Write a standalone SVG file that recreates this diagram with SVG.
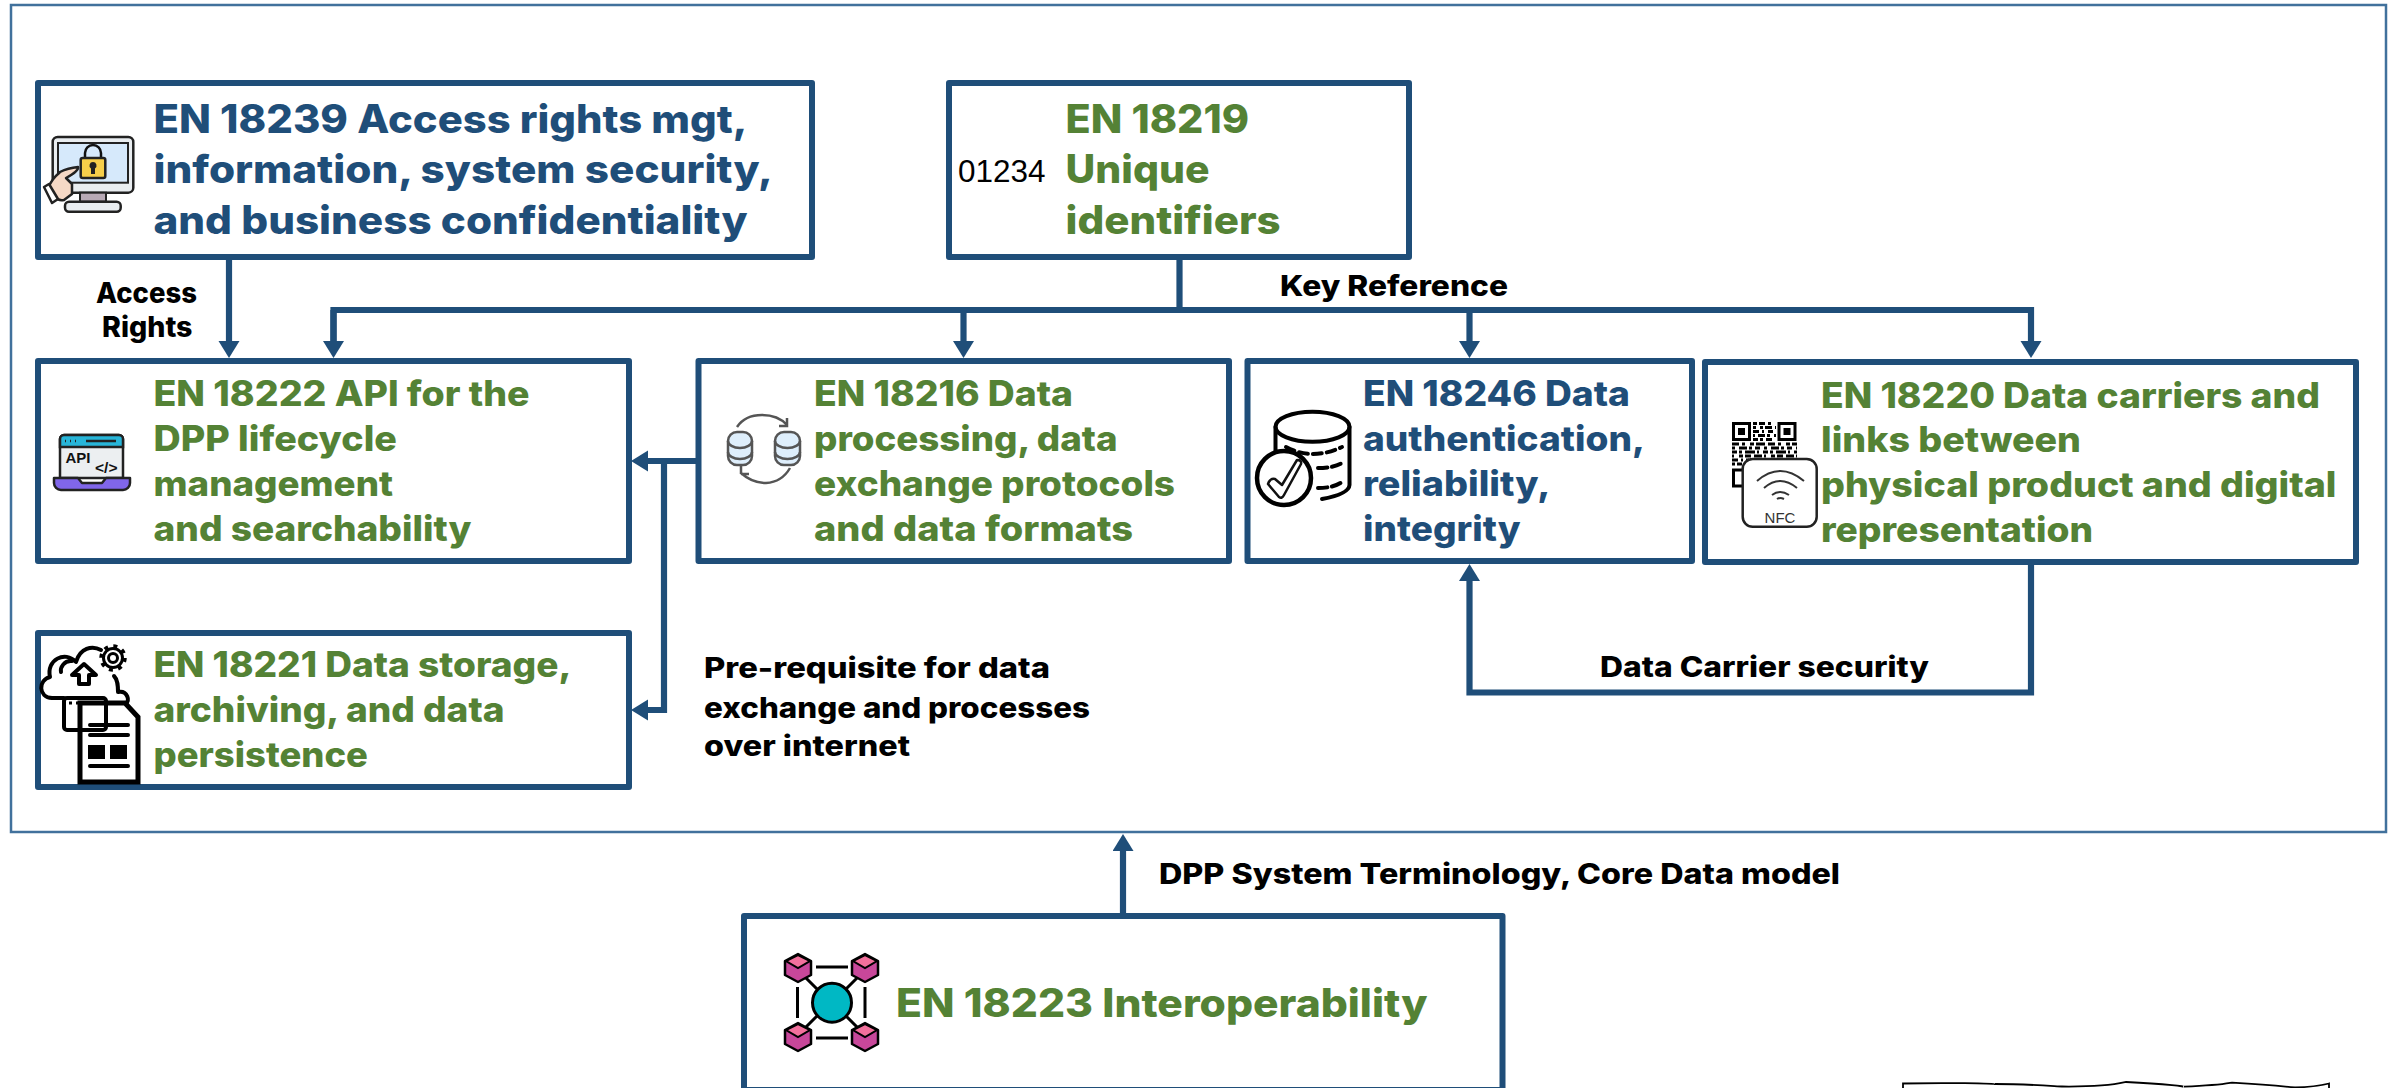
<svg xmlns="http://www.w3.org/2000/svg" width="2395" height="1088" viewBox="0 0 2395 1088">
<defs>
<marker id="ah" markerUnits="userSpaceOnUse" markerWidth="18" markerHeight="22" refX="0" refY="10.5" orient="auto"><path d="M0 0L17 10.5L0 21Z" fill="#1f4e79"/></marker>
</defs>
<style>
.box{fill:#fff;stroke:#1f4e79;stroke-width:6;stroke-linejoin:round}
.frame{fill:none;stroke:#41719c;stroke-width:2.5}
.c{fill:none;stroke:#1f4e79;stroke-width:6.2}
.t{font-family:Inter,"Liberation Sans",sans-serif;font-weight:800}
.b{font-size:39px}.m{font-size:35px}.l{font-size:28px;fill:#000}
.n{fill:#1f4e79}.g{fill:#548235}
.k{fill:none;stroke:#111;stroke-width:2.5;stroke-linecap:round;stroke-linejoin:round}
.k4{fill:none;stroke:#000;stroke-width:4;stroke-linecap:round;stroke-linejoin:round}
.a{font-family:"Liberation Sans",sans-serif}
.q{fill:none;stroke:#000;stroke-width:3}
.cube{fill:#c8479a;stroke:#000;stroke-width:2.5;stroke-linejoin:round}
.top{fill:#f2709c;stroke:#000;stroke-width:2}
</style>
<rect class="frame" x="11" y="5" width="2375" height="827"/>

<g id="connectors">
<path class="c" d="M229 257V341" marker-end="url(#ah)"/>
<path class="c" d="M1179.5 257V310"/>
<path class="c" d="M333.5 341V310H2031V341" marker-end="url(#ah)"/>
<path class="c" d="M333.5 310V341" marker-end="url(#ah)"/>
<path class="c" d="M963.5 310V341" marker-end="url(#ah)"/>
<path class="c" d="M1469.5 310V341" marker-end="url(#ah)"/>
<path class="c" d="M698 461H648" marker-end="url(#ah)"/>
<path class="c" d="M664 461V710H648" marker-end="url(#ah)"/>
<path class="c" d="M2031 562V692.5H1469.5V581" marker-end="url(#ah)"/>
<path class="c" d="M1123 916V851" marker-end="url(#ah)"/>
</g>

<g id="labels">
<text class="t l" x="96" y="302.7" textLength="101" lengthAdjust="spacingAndGlyphs">Access</text>
<text class="t l" x="102" y="337" textLength="90.5" lengthAdjust="spacingAndGlyphs">Rights</text>
<text class="t l" x="1280" y="296" textLength="228" lengthAdjust="spacingAndGlyphs">Key Reference</text>
<text class="t l" x="704" y="678.3" textLength="346" lengthAdjust="spacingAndGlyphs">Pre-requisite for data</text>
<text class="t l" x="704" y="717.7" textLength="386" lengthAdjust="spacingAndGlyphs">exchange and processes</text>
<text class="t l" x="704" y="755.7" textLength="206" lengthAdjust="spacingAndGlyphs">over internet</text>
<text class="t l" x="1600" y="676.7" textLength="329" lengthAdjust="spacingAndGlyphs">Data Carrier security</text>
<text class="t l" x="1159" y="884" textLength="681" lengthAdjust="spacingAndGlyphs">DPP System Terminology, Core Data model</text>
</g>

<g id="en18239">
<rect class="box" x="38" y="83" width="774" height="174"/>
<rect x="52.7" y="137" width="80.6" height="55.7" rx="5" fill="#e9edf0" stroke="#222" stroke-width="2.5"/>
<rect x="58" y="143" width="70" height="39.7" fill="#d6e9fb" stroke="#222" stroke-width="2"/>
<rect x="80" y="192.7" width="26" height="9" fill="#b8a9b5" stroke="#222" stroke-width="2"/>
<rect x="65" y="201.7" width="55.7" height="10" rx="4" fill="#e9edf0" stroke="#222" stroke-width="2.5"/>
<path class="k" d="M85 158V153a8 8 0 0 1 16 0V158" stroke-width="3.5"/>
<rect x="80.7" y="158" width="24.6" height="20" rx="2" fill="#f7cf4a" stroke="#222" stroke-width="2.5"/>
<path d="M93 162a3.5 3.5 0 0 1 2 6.4V174h-4v-5.6A3.5 3.5 0 0 1 93 162Z" fill="#222"/>
<path d="M78 167Q79 171 66 178L72 184L72 194L64 200Q58 201 55 197L49 186Q53 178 58 174L60 172Q68 168 78 167Z" fill="#f6d9c6" stroke="#222" stroke-width="2.5" stroke-linejoin="round"/>
<path d="M44 187L49 184L58 199L52 203Z" fill="#fff" stroke="#222" stroke-width="2.5" stroke-linejoin="round"/>
<text class="t b n" x="153.5" y="132.7" textLength="594" lengthAdjust="spacingAndGlyphs">EN 18239 Access rights mgt,</text>
<text class="t b n" x="153.5" y="183" textLength="619.5" lengthAdjust="spacingAndGlyphs">information, system security,</text>
<text class="t b n" x="153.5" y="234" textLength="594" lengthAdjust="spacingAndGlyphs">and business confidentiality</text>
</g>

<g id="en18219">
<rect class="box" x="949" y="83" width="460" height="174"/>
<text class="a" x="958" y="181.7" font-size="31.5" textLength="87.5" lengthAdjust="spacingAndGlyphs" fill="#000">01234</text>
<text class="t b g" x="1065.6" y="132.7" textLength="183.4" lengthAdjust="spacingAndGlyphs">EN 18219</text>
<text class="t b g" x="1065.6" y="183" textLength="144" lengthAdjust="spacingAndGlyphs">Unique</text>
<text class="t b g" x="1065.6" y="234" textLength="215" lengthAdjust="spacingAndGlyphs">identifiers</text>
</g>

<g id="en18222">
<rect class="box" x="38" y="361" width="591" height="200"/>
<path d="M60 478V439a4 4 0 0 1 4-4h55a4 4 0 0 1 4 4v39Z" fill="#eceff1" stroke="#222" stroke-width="2.5"/>
<path d="M60 447V439a4 4 0 0 1 4-4h55a4 4 0 0 1 4 4v8Z" fill="#27b5d8" stroke="#222" stroke-width="2.5"/>
<path d="M86 441H116M65 441h1M70 441h1M75 441h1" stroke="#222" stroke-width="2.5"/>
<path d="M54 478H78L82 483H102L106 478H130V483a7 7 0 0 1-7 7H61a7 7 0 0 1-7-7Z" fill="#8066ea" stroke="#222" stroke-width="2.5" stroke-linejoin="round"/>
<text class="a" x="65.5" y="462.7" font-size="14" font-weight="700" textLength="25" lengthAdjust="spacingAndGlyphs" fill="#111">API</text>
<text class="a" x="95" y="473" font-size="14" font-weight="700" textLength="22.5" lengthAdjust="spacingAndGlyphs" fill="#111">&lt;/&gt;</text>
<text class="t m g" x="153.5" y="405.7" textLength="376" lengthAdjust="spacingAndGlyphs">EN 18222 API for the</text>
<text class="t m g" x="153.5" y="450.7" textLength="243.5" lengthAdjust="spacingAndGlyphs">DPP lifecycle</text>
<text class="t m g" x="153.5" y="495.7" textLength="239.5" lengthAdjust="spacingAndGlyphs">management</text>
<text class="t m g" x="153.5" y="540.7" textLength="318" lengthAdjust="spacingAndGlyphs">and searchability</text>
</g>

<g id="en18221">
<rect class="box" x="38" y="633" width="591" height="154"/>
<path class="k4" d="M64 698H52C38 697 38 680 50 677C46 660 65 650 76 662C80 648 92 645 101 650M114 676C118 680 118 686 118 692C128 690 130 702 126 703M72 661C64 660 60 668 61 672"/>
<path class="k4" d="M79 684V675H72L84 664L96 675H89V684Z"/>
<circle cx="113" cy="658" r="4.5" fill="none" stroke="#000" stroke-width="3"/>
<circle cx="113" cy="658" r="9.5" fill="#fff" stroke="#000" stroke-width="3"/>
<circle cx="113" cy="658" r="4.5" fill="none" stroke="#000" stroke-width="3"/>
<circle cx="113" cy="658" r="12" fill="none" stroke="#000" stroke-width="3.5" stroke-dasharray="4 5.42"/>
<rect class="k4" x="64" y="698" width="42" height="32" rx="3"/>
<path d="M69 703h3M76 703h3" stroke="#000" stroke-width="3"/>
<path d="M80 703H125L138 717V782H80Z" fill="none" stroke="#000" stroke-width="5"/>
<path d="M90 725H128M90 735H128M90 766H128" stroke="#000" stroke-width="4" stroke-linecap="round"/>
<rect x="88" y="745" width="17" height="14"/><rect x="110" y="745" width="17" height="14"/>
<text class="t m g" x="153.5" y="677.3" textLength="418" lengthAdjust="spacingAndGlyphs">EN 18221 Data storage,</text>
<text class="t m g" x="153.5" y="722.3" textLength="351" lengthAdjust="spacingAndGlyphs">archiving, and data</text>
<text class="t m g" x="153.5" y="766.7" textLength="214.5" lengthAdjust="spacingAndGlyphs">persistence</text>
</g>

<g id="en18216">
<rect class="box" x="698.5" y="361" width="530.5" height="200"/>
<g fill="#deeefb" stroke="#555" stroke-width="2.5">
<rect x="728" y="432" width="24" height="33" rx="9"/><rect x="775" y="432" width="25" height="33" rx="9"/>
</g>
<path d="M728 441a12 7 0 0 0 24 0M728 452a12 7 0 0 0 24 0M775 441a12.5 7 0 0 0 25 0M775 452a12.5 7 0 0 0 25 0" fill="none" stroke="#555" stroke-width="2.5"/>
<path d="M737 427Q745 415 762 415Q778 415 787 425M787 418V426H779M741 473Q752 483 766 483Q782 482 790 468M741 474V465M741 474H749" fill="none" stroke="#555" stroke-width="2.5"/>
<text class="t m g" x="814" y="405.7" textLength="259" lengthAdjust="spacingAndGlyphs">EN 18216 Data</text>
<text class="t m g" x="814" y="450.7" textLength="303.5" lengthAdjust="spacingAndGlyphs">processing, data</text>
<text class="t m g" x="814" y="495.7" textLength="361" lengthAdjust="spacingAndGlyphs">exchange protocols</text>
<text class="t m g" x="814" y="540.7" textLength="319" lengthAdjust="spacingAndGlyphs">and data formats</text>
</g>

<g id="en18246">
<rect class="box" x="1247.5" y="361" width="444.5" height="200"/>
<ellipse class="k4" cx="1312.5" cy="426.7" rx="37" ry="15"/>
<path class="k4" d="M1275.5 427V452M1349.5 427V485Q1349 494 1322 499"/>
<path class="k4" d="M1286 447Q1312 461 1342 447M1318 468Q1334 468 1342 463M1318 488Q1334 488 1342 482" stroke-dasharray="9 5"/>
<circle cx="1284" cy="478" r="27" fill="#fff" stroke="#000" stroke-width="4.5"/>
<path class="k" d="M1268 484L1279 497Q1282 499 1284 495L1301 464Q1302 460 1297 460L1282 485L1275 479Q1270 478 1268 484Z" stroke-width="2"/>
<text class="t m n" x="1363" y="405.7" textLength="267" lengthAdjust="spacingAndGlyphs">EN 18246 Data</text>
<text class="t m n" x="1363" y="450.7" textLength="282" lengthAdjust="spacingAndGlyphs">authentication,</text>
<text class="t m n" x="1363" y="495.7" textLength="187.5" lengthAdjust="spacingAndGlyphs">reliability,</text>
<text class="t m n" x="1363" y="540.7" textLength="157.5" lengthAdjust="spacingAndGlyphs">integrity</text>
</g>

<g id="en18220">
<rect class="box" x="1705" y="362" width="651" height="200"/>
<rect class="q" x="1733.5" y="423.5" width="16" height="16"/><rect x="1738" y="428" width="7" height="7"/>
<rect class="q" x="1779" y="423.5" width="16" height="16"/><rect x="1783.5" y="428" width="7" height="7"/>
<rect class="q" x="1733.5" y="470" width="16" height="16"/>
<path class="q" d="M1753 423.5H1776" stroke-dasharray="4 2 6 3 3 5"/>
<path class="q" d="M1753 427.5H1776" stroke-dasharray="3 4 3 2 7 3"/>
<path class="q" d="M1753 431.5H1776" stroke-dasharray="6 3 2 4 5 3"/>
<path class="q" d="M1753 435.5H1776" stroke-dasharray="2 3 7 2 3 4"/>
<path class="q" d="M1753 439.5H1776" stroke-dasharray="5 2 3 3 6 4"/>
<path class="q" d="M1732 444H1797" stroke-dasharray="7 3 3 5 4 2 9 3"/>
<path class="q" d="M1732 448H1797" stroke-dasharray="3 4 8 2 3 3 5 4"/>
<path class="q" d="M1732 452H1797" stroke-dasharray="5 2 3 3 10 2 2 4"/>
<path class="q" d="M1732 456H1797" stroke-dasharray="2 5 4 2 6 3 8 2"/>
<path class="q" d="M1732 460H1797" stroke-dasharray="6 3 2 3 3 4"/>
<path class="q" d="M1732 464H1745" stroke-dasharray="3 2 5 2"/>
<rect x="1742.7" y="459" width="74" height="67.7" rx="10" fill="#fff" stroke="#222" stroke-width="2.5"/>
<path d="M1757 481Q1780 461 1804 481M1764 488Q1780 474 1797 488M1772 495Q1780 489 1789 495M1777 499Q1780 497 1784 499" fill="none" stroke="#333" stroke-width="2"/>
<text class="a" x="1780" y="522.7" font-size="15" text-anchor="middle" fill="#333">NFC</text>
<text class="t m g" x="1821" y="407.7" textLength="499" lengthAdjust="spacingAndGlyphs">EN 18220 Data carriers and</text>
<text class="t m g" x="1821" y="451.7" textLength="260" lengthAdjust="spacingAndGlyphs">links between</text>
<text class="t m g" x="1821" y="496.7" textLength="515.5" lengthAdjust="spacingAndGlyphs">physical product and digital</text>
<text class="t m g" x="1821" y="541.7" textLength="272" lengthAdjust="spacingAndGlyphs">representation</text>
</g>

<g id="en18223">
<rect class="box" x="744" y="916" width="758.5" height="174"/>
<path d="M805 977L817 989M858 977L846 989M805 1028L817 1016M858 1028L846 1016M816 967H848M816 1038H848M797.500 987V1018M865 987V1018" stroke="#000" stroke-width="3" fill="none"/>
<ellipse cx="832" cy="1002.7" rx="19.5" ry="19.5" fill="#00b8c4" stroke="#000" stroke-width="3"/>
<g id="cubes">
<path class="cube" d="M798 954L811 961V975L798 982L785 975V961Z"/><path class="top" d="M798 955L810 961L798 968L786 961Z"/>
<path class="cube" d="M865 954L878 961V975L865 982L852 975V961Z"/><path class="top" d="M865 955L877 961L865 968L853 961Z"/>
<path class="cube" d="M798 1023L811 1030V1044L798 1051L785 1044V1030Z"/><path class="top" d="M798 1024L810 1030L798 1037L786 1030Z"/>
<path class="cube" d="M865 1023L878 1030V1044L865 1051L852 1044V1030Z"/><path class="top" d="M865 1024L877 1030L865 1037L853 1030Z"/>
</g>
<text class="t b g" x="896" y="1016.7" textLength="531.5" lengthAdjust="spacingAndGlyphs">EN 18223 Interoperability</text>
</g>

<path id="sketch-shape" d="M1903 1090V1083.5C1945 1082.5 1995 1083.500 1995 1084C2030 1084 2060 1086.700 2062 1086.500C2110 1087 2125 1082 2126 1082C2170 1084 2185 1086.700 2184 1086.700C2225 1085 2230 1082.700 2232 1082.700C2270 1085 2295 1087.500 2295 1087.500C2315 1087 2329 1083.500 2329 1083.500V1090" fill="none" stroke="#000" stroke-width="1.8"/>
</svg>
